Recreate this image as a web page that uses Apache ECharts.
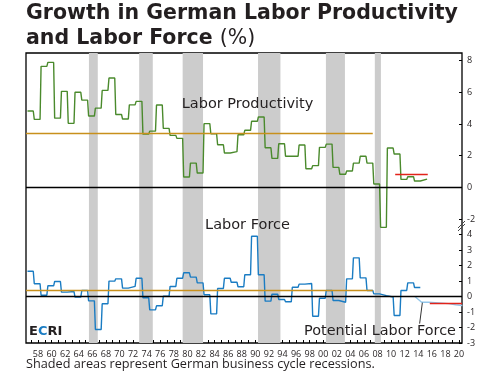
<!DOCTYPE html>
<html>
<head>
<meta charset="utf-8">
<script src="https://cdn.jsdelivr.net/npm/echarts@6/dist/echarts.min.js"></script>
<style>
  html, body { margin: 0; padding: 0; background: #fff; }
  #chart { width: 495px; height: 375px; }
</style>
</head>
<body>
<div id="chart"></div>
<script>
// annual growth rates (%), first value is 1956
const prodFirstYear = 1956;
const prodVals = [4.82, 4.29, 7.64, 7.89, 4.37, 6.06, 4.04, 6.0, 5.51, 4.5,
  5.0, 6.12, 6.9, 4.6, 4.31, 5.21, 5.43, 3.36, 3.55, 5.2,
  3.72, 3.28, 3.09, 0.65, 1.53, 0.9, 4.02, 3.38, 2.69, 2.17,
  2.25, 3.32, 3.6, 4.17, 4.44, 2.5, 1.83, 2.75, 1.96, 1.96,
  2.67, 1.17, 1.37, 2.52, 2.73, 1.26, 0.82, 1.03, 1.53, 1.96,
  1.53, 0.21, -2.53, 2.48, 2.1, 0.5, 0.67, 0.4, 0.52];

const laborFirstYear = 1956;
const laborVals = [1.63, 0.82, 0.08, 0.69, 0.97, 0.28, 0.32, -0.04, 0.39, -0.28,
  -2.13, -0.47, 0.99, 1.14, 0.54, 0.65, 1.18, -0.08, -0.86, -0.6,
  0.02, 0.65, 1.18, 1.53, 1.25, 0.88, 0.11, -1.12, 0.52, 1.18,
  0.92, 0.63, 1.4, 3.89, 1.4, -0.3, 0.15, -0.19, -0.34, 0.6,
  0.8, 0.84, -1.27, -0.11, 0.39, -0.26, -0.37, 1.14, 2.49, 1.2,
  0.39, 0.17, 0.06, -0.03, -1.23, 0.39, 0.88, 0.58];

// potential labor force projection
const potYears = [2013.5, 2014.5, 2015.5, 2016.5, 2017.5, 2018.5, 2019.5, 2020.5];
const potVals = [0.0, -0.37, -0.37, -0.4, -0.43, -0.46, -0.53, -0.58];

// recession shading (start, end)
const recessions = [[1965.5, 1966.8], [1972.9, 1974.9], [1979.3, 1982.3],
  [1990.4, 1993.7], [2000.4, 2003.2], [2007.6, 2008.5]];

// reference levels
const prodMean = 3.41, laborMean = 0.43, meanEnd = 2007.3;
const prodRecent = 0.82, prodRecentFrom = 2010.6, prodRecentTo = 2015.4;
const laborOutlook = -0.45, laborOutlookFrom = 2015.7;

const labelYears = [1958, 1960, 1962, 1964, 1966, 1968, 1970, 1972, 1974, 1976,
  1978, 1980, 1982, 1984, 1986, 1988, 1990, 1992, 1994, 1996, 1998, 2000,
  2002, 2004, 2006, 2008, 2010, 2012, 2014, 2016, 2018, 2020];
const prodTicks = [-2, 0, 2, 4, 6, 8];
const laborTicks = [-3, -2, -1, 0, 1, 2, 3, 4];

const xMin = 1956.23, xMax = 2020.44;
const tickYears = [];
for (let y = 1957; y <= 2020; y++) tickYears.push(y);

const stepPoints = (first, vals) =>
  vals.flatMap((v, i) => [[first + i + 0.45, v], [first + i + 1.3, v]]);

const ink = '#231f20';
const font = 'Open Sans';

let myChart = echarts.init(document.getElementById('chart'));

let option = {
  animation: false,
  textStyle: { fontFamily: font },
  grid: [
    { left: 26, right: 33, top: 53, height: 292.6 },
    { left: 26, right: 33, top: 53, bottom: 32, show: true,
      borderColor: '#000', borderWidth: 1.3, backgroundColor: 'transparent' }
  ],
  xAxis: [
    { gridIndex: 0, type: 'value', min: xMin, max: xMax, show: false },
    {
      gridIndex: 1, type: 'value', min: xMin, max: xMax,
      splitLine: { show: false },
      axisLine: { show: false, onZero: false },
      axisTick: { show: true, inside: true, length: 3, customValues: tickYears,
        lineStyle: { color: '#000', width: 1 } },
      axisLabel: { customValues: labelYears, color: ink, fontSize: 9, margin: 7,
        formatter: v => String(Math.round(v) % 100).padStart(2, '0') }
    }
  ],
  yAxis: [
    {
      gridIndex: 0, type: 'value', position: 'right', min: -10, max: 8.484,
      splitLine: { show: false }, axisLine: { show: false, onZero: false },
      axisTick: { show: true, inside: true, length: 3, customValues: prodTicks,
        lineStyle: { color: '#000' } },
      axisLabel: { customValues: prodTicks, color: ink, fontSize: 9, margin: 5 }
    },
    {
      gridIndex: 1, type: 'value', position: 'right', min: -3, max: 15.71,
      splitLine: { show: false }, axisLine: { show: false, onZero: false },
      axisTick: { show: true, inside: true, length: 3, customValues: laborTicks,
        lineStyle: { color: '#000' } },
      axisLabel: { customValues: laborTicks, color: ink, fontSize: 9, margin: 5 }
    }
  ],
  series: [
    {
      // recession bands
      type: 'line', xAxisIndex: 1, yAxisIndex: 1, data: [], z: 0, silent: true,
      markArea: {
        silent: true,
        itemStyle: { color: '#cccccc' },
        data: recessions.map(r => [{ xAxis: r[0] }, { xAxis: r[1] }])
      }
    },
    {
      name: 'Labor Productivity',
      type: 'line', xAxisIndex: 0, yAxisIndex: 0,
      data: stepPoints(prodFirstYear, prodVals),
      showSymbol: false, z: 3,
      lineStyle: { color: '#4a8a2c', width: 1.4 },
      itemStyle: { color: '#4a8a2c' },
      markLine: {
        silent: true, symbol: 'none', label: { show: false },
        data: [
          [{ coord: [xMin, 0], lineStyle: { color: '#000', width: 1.4, type: 'solid' } }, { coord: [xMax, 0] }],
          [{ coord: [xMin, prodMean], lineStyle: { color: '#c8901c', width: 1.3, type: 'solid' } }, { coord: [meanEnd, prodMean] }],
          [{ coord: [prodRecentFrom, prodRecent], lineStyle: { color: '#e2231a', width: 1.3, type: 'solid' } }, { coord: [prodRecentTo, prodRecent] }]
        ]
      }
    },
    {
      name: 'Labor Force',
      type: 'line', xAxisIndex: 1, yAxisIndex: 1,
      data: stepPoints(laborFirstYear, laborVals),
      showSymbol: false, z: 3,
      lineStyle: { color: '#1a7cc3', width: 1.4 },
      itemStyle: { color: '#1a7cc3' },
      markLine: {
        silent: true, symbol: 'none', label: { show: false },
        data: [
          [{ coord: [xMin, 0], lineStyle: { color: '#000', width: 1.4, type: 'solid' } }, { coord: [xMax, 0] }],
          [{ coord: [xMin, laborMean], lineStyle: { color: '#c8901c', width: 1.3, type: 'solid' } }, { coord: [meanEnd, laborMean] }],
          [{ coord: [laborOutlookFrom, laborOutlook], lineStyle: { color: '#e2231a', width: 1.3, type: 'solid' } }, { coord: [xMax, laborOutlook] }]
        ]
      }
    },
    {
      name: 'Potential Labor Force',
      type: 'line', xAxisIndex: 1, yAxisIndex: 1,
      data: potYears.map((y, i) => [y, potVals[i]]),
      showSymbol: false, z: 3,
      lineStyle: { color: '#92c6ea', width: 1.4 },
      itemStyle: { color: '#92c6ea' },
      markLine: {
        silent: true, symbol: 'none', label: { show: false },
        data: [
          [{ coord: [2014.6, -0.4], lineStyle: { color: '#333', width: 1, type: 'solid' } }, { coord: [2014.2, -1.75] }]
        ]
      }
    }
  ],
  graphic: [
    { type: 'text', x: 26, y: 14, z: 100,
      style: { text: 'Growth in German Labor Productivity', font: 'bold 20.5px "DejaVu Sans"', fill: ink, verticalAlign: 'middle' } },
    { type: 'text', x: 26, y: 39, z: 100,
      style: { text: '{a|and Labor Force }{b|(%)}', fill: ink, verticalAlign: 'middle',
        rich: { a: { font: 'bold 20.5px "DejaVu Sans"', fill: ink }, b: { font: 'normal 20.5px "DejaVu Sans"', fill: ink } } } },
    { type: 'text', x: 247.5, y: 104, z: 100,
      style: { text: 'Labor Productivity', font: 'normal 14.5px "DejaVu Sans"', fill: ink, align: 'center', verticalAlign: 'middle' } },
    { type: 'text', x: 247.5, y: 225, z: 100,
      style: { text: 'Labor Force', font: 'normal 14.5px "DejaVu Sans"', fill: ink, align: 'center', verticalAlign: 'middle' } },
    { type: 'text', x: 380, y: 331, z: 100,
      style: { text: 'Potential Labor Force', font: 'normal 14.4px "DejaVu Sans"', fill: ink, align: 'center', verticalAlign: 'middle' } },
    { type: 'text', x: 29, y: 332, z: 100,
      style: { text: '{e|E}{c|C}{e|RI}', verticalAlign: 'middle',
        rich: { e: { font: 'bold 13px "DejaVu Sans"', fill: ink }, c: { font: 'bold 13px "DejaVu Sans"', fill: '#1a7cc3' } } } },
    { type: 'text', x: 26, y: 364, z: 100,
      style: { text: 'Shaded areas represent German business cycle recessions.', font: '400 12.7px "Open Sans"', fill: ink, verticalAlign: 'middle' } },
    { type: 'line', z: 100, shape: { x1: 458, y1: 228, x2: 465, y2: 221 }, style: { stroke: '#444', lineWidth: 1 } },
    { type: 'line', z: 100, shape: { x1: 458, y1: 231, x2: 465, y2: 224 }, style: { stroke: '#444', lineWidth: 1 } }
  ]
};

myChart.setOption(option);
</script>
</body>
</html>
